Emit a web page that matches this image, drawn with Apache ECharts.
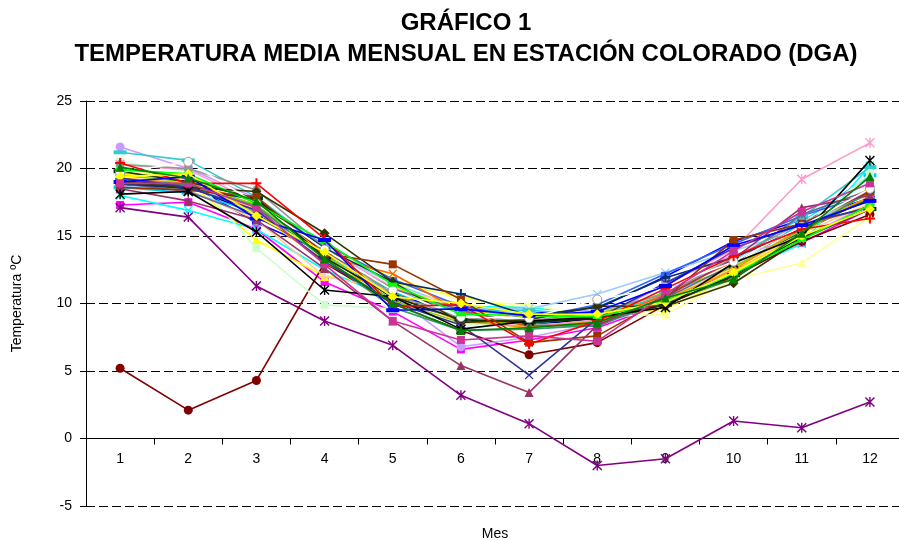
<!DOCTYPE html>
<html>
<head>
<meta charset="utf-8">
<script src="https://cdn.jsdelivr.net/npm/echarts@6/dist/echarts.min.js"></script>
<style>html,body{margin:0;padding:0;background:#fff;}#c{width:899px;height:540px;}</style>
</head>
<body>
<div id="c"></div>
<script>
// ---- data ----
const months = ['1','2','3','4','5','6','7','8','9','10','11','12'];
const yTicks = [-5, 0, 5, 10, 15, 20, 25];

const s01 = [19.1, 18.7, 16.6, 13.6, 10.2, 8.9, 8.4, 8.9, 10.5, 12.7, 15.3, 17.9];
const s02 = [17.3, 17.5, 15.5, 11.6, 9.4, 6.6, 7.3, 8.2, 10.0, 12.5, 14.5, 17.0];
const s03 = [19.6, 19.0, 14.7, 12.0, 11.5, 10.5, 9.5, 9.0, 9.6, 12.0, 15.0, 17.0];
const s04 = [18.0, 16.9, 15.5, 12.5, 10.3, 9.8, 9.7, 9.2, 10.2, 12.2, 14.4, 20.2];
const s05 = [17.1, 16.4, 11.3, 8.7, 6.9, 3.2, 1.1, -2.0, -1.5, 1.3, 0.8, 2.7];
const s06 = [5.2, 2.1, 4.3, 13.0, 10.0, 8.0, 6.2, 7.1, 9.9, 12.0, 14.6, 16.6];
const s07 = [19.2, 18.8, 17.2, 14.0, 10.8, 9.0, 8.5, 9.0, 10.5, 12.8, 15.5, 18.3];
const s08 = [18.7, 18.9, 16.0, 13.8, 10.4, 9.8, 9.3, 9.6, 12.0, 14.6, 16.2, 17.8];
const s09 = [18.6, 18.2, 16.8, 13.5, 10.8, 9.6, 9.3, 9.0, 10.8, 12.6, 16.0, 19.5];
const s10 = [20.0, 19.5, 17.6, 14.5, 11.3, 9.3, 9.4, 9.6, 11.0, 13.4, 16.0, 19.0];
const s11 = [20.5, 19.8, 14.1, 9.9, 9.6, 8.5, 8.4, 8.6, 10.3, 12.8, 15.6, 19.6];
const s12 = [19.8, 19.6, 17.0, 14.0, 12.0, 10.2, 9.9, 9.0, 9.2, 11.8, 13.0, 16.4];
const s13 = [18.7, 18.5, 17.3, 13.9, 11.5, 9.6, 9.6, 10.7, 12.3, 13.9, 15.5, 18.4];
const s14 = [20.3, 19.9, 17.5, 14.0, 11.2, 8.7, 8.3, 8.8, 11.4, 14.0, 19.2, 21.9];
const s15 = [21.6, 20.0, 17.8, 13.8, 10.6, 6.8, 7.5, 8.5, 11.6, 13.6, 14.8, 17.4];
const s16 = [19.0, 18.4, 16.2, 12.0, 11.0, 10.0, 8.6, 9.3, 10.6, 12.6, 15.2, 17.4];
const s17 = [18.9, 18.6, 16.9, 14.4, 11.8, 9.8, 8.9, 9.9, 12.2, 14.4, 16.5, 18.1];
const s18 = [21.2, 20.6, 17.9, 14.1, 10.9, 9.4, 9.5, 9.1, 10.6, 13.2, 16.4, 20.1];
const s19 = [19.5, 19.0, 17.3, 13.6, 10.2, 8.6, 8.6, 9.2, 10.8, 12.7, 15.4, 17.8];
const s20 = [19.7, 19.2, 16.6, 13.2, 11.2, 9.5, 9.0, 9.1, 10.4, 12.4, 15.1, 18.6];
const s21 = [19.3, 18.9, 16.9, 13.0, 10.6, 8.7, 8.2, 8.7, 10.3, 12.5, 15.6, 17.9];
const s22 = [19.0, 18.7, 17.7, 13.5, 12.2, 9.4, 8.3, 8.5, 10.7, 13.1, 15.7, 17.2];
const s23 = [18.9, 18.3, 16.4, 13.8, 11.1, 9.5, 8.4, 8.3, 10.4, 12.9, 16.6, 18.4];
const s24 = [20.3, 20.0, 18.4, 14.2, 10.7, 8.9, 8.7, 9.4, 10.7, 13.4, 16.0, 18.1];
const s25 = [18.9, 18.5, 17.7, 14.1, 11.6, 10.7, 9.1, 9.7, 11.9, 13.4, 15.6, 17.7];
const s26 = [19.2, 18.8, 17.2, 13.3, 9.7, 8.0, 8.1, 8.4, 10.1, 11.8, 15.3, 18.3];
const s27 = [19.8, 19.0, 17.8, 13.4, 10.5, 8.8, 8.6, 8.9, 9.9, 12.1, 14.9, 17.0];
const s28 = [19.0, 18.6, 18.3, 15.2, 11.6, 8.6, 8.8, 9.8, 9.8, 11.5, 14.8, 17.0];
const s29 = [18.6, 18.4, 17.9, 13.7, 12.9, 10.3, 7.1, 7.6, 10.4, 14.7, 15.9, 18.3];
const s30 = [18.5, 17.6, 16.2, 12.6, 8.7, 5.4, 3.4, 8.4, 10.5, 13.3, 17.1, 18.0];
const s31 = [19.3, 18.6, 16.9, 13.1, 10.1, 8.4, 4.7, 8.9, 11.5, 14.1, 15.9, 17.1];
const s32 = [18.1, 18.3, 15.3, 11.0, 10.5, 8.1, 8.7, 9.0, 9.7, 13.0, 15.0, 20.6];
const s33 = [19.7, 20.5, 17.4, 14.0, 11.0, 9.0, 8.9, 10.3, 11.2, 13.1, 15.7, 18.5];
const s34 = [20.4, 18.9, 18.9, 14.8, 9.8, 9.9, 7.0, 8.7, 11.1, 13.5, 15.5, 16.3];
const s35 = [19.9, 19.6, 17.4, 14.6, 11.4, 9.2, 9.1, 9.0, 10.2, 12.2, 14.7, 17.3];
const s36 = [19.0, 19.4, 16.3, 14.7, 9.5, 9.6, 9.1, 9.4, 11.3, 14.3, 15.8, 17.6];
const s37 = [19.4, 19.6, 16.5, 13.8, 10.5, 10.0, 9.2, 9.2, 10.1, 12.3, 15.0, 17.0];
const s38 = [18.9, 18.9, 17.1, 12.9, 8.7, 7.3, 7.6, 7.2, 10.7, 13.9, 16.8, 18.9];
const s39 = [20.1, 19.3, 17.6, 13.3, 10.0, 8.0, 8.2, 8.6, 10.4, 11.8, 15.2, 19.4];

const seriesValues = [s01,s02,s03,s04,s05,s06,s07,s08,s09,s10,s11,s12,s13,s14,s15,s16,s17,s18,s19,s20,
  s21,s22,s23,s24,s25,s26,s27,s28,s29,s30,s31,s32,s33,s34,s35,s36,s37,s38,s39];

// ---- styles ----
const lineColors = ['#000080','#FF00FF','#FFFF00','#00FFFF','#800080','#800000','#008080','#0000FF',
  '#00CCFF','#CCFFFF','#CCFFCC','#FFFF99','#99CCFF','#FF99CC','#CC99FF','#FFCC99','#3366FF','#33CCCC',
  '#99CC00','#FFCC00','#FF9900','#FF6600','#666699','#969696','#003366','#339966','#003300','#333300',
  '#993300','#993366','#333399','#000000','#FFFFFF','#FF0000','#00FF00','#0000FF','#FFFF00','#CC3399','#008000'];

const X_PATH = 'path://M1,0L5,4L9,0L10,1L6,5L10,9L9,10L5,6L1,10L0,9L4,5L0,1Z';
const STAR_PATH = 'path://M1,0L4.3,3.3V0H5.7V3.3L9,0L10,1L6,5L10,9L9,10L5.7,6.7V10H4.3V6.7L1,10L0,9L4,5L0,1Z';
const PLUS_PATH = 'path://M4,0H6V4H10V6H6V10H4V6H0V4H4Z';
const markerCycle = [
  {symbol:'diamond', size:10},
  {symbol:'rect', size:8},
  {symbol:'triangle', size:9},
  {symbol:X_PATH, size:9},
  {symbol:STAR_PATH, size:10},
  {symbol:'circle', size:9},
  {symbol:PLUS_PATH, size:10},
  {symbol:'rect', size:[9,4]},
  {symbol:'rect', size:[13,4]}
];

const series = seriesValues.map(function (vals, i) {
  const m = markerCycle[i % markerCycle.length];
  const c = lineColors[i];
  const isWhite = c === '#FFFFFF';
  return {
    type: 'line',
    data: vals,
    symbol: m.symbol,
    symbolSize: m.size,
    showSymbol: true,
    animation: false,
    lineStyle: {color: c, width: 1.6},
    itemStyle: {color: c, borderColor: isWhite ? '#999999' : c, borderWidth: isWhite ? 1 : 0},
    emphasis: {disabled: true},
    z: 2 + i * 0.01
  };
});

const chart = echarts.init(document.getElementById('c'), null, {renderer: 'canvas'});
chart.setOption({
  backgroundColor: '#ffffff',
  animation: false,
  title: {
    text: 'GRÁFICO 1\nTEMPERATURA MEDIA MENSUAL EN ESTACIÓN COLORADO (DGA)',
    left: 461,
    top: 3,
    textAlign: 'center',
    textStyle: {fontFamily: 'Liberation Sans, Arial, sans-serif', fontSize: 24, fontWeight: 'bold', color: '#000', lineHeight: 31}
  },
  grid: {left: 86, top: 101, width: 818, height: 405, containLabel: false, outerBoundsMode: 'none'},
  xAxis: {
    type: 'category',
    data: months,
    boundaryGap: true,
    position: 'bottom',
    offset: -67.5,
    name: 'Mes',
    nameLocation: 'middle',
    nameGap: 89,
    nameTextStyle: {fontFamily: 'Liberation Sans, Arial, sans-serif', fontSize: 14, color: '#000'},
    axisLine: {onZero: false, lineStyle: {color: '#000', width: 1}},
    axisTick: {show: true, inside: false, length: 6, alignWithLabel: false, lineStyle: {color: '#000'}},
    axisLabel: {margin: 14, fontFamily: 'Liberation Sans, Arial, sans-serif', fontSize: 14, color: '#000'},
    splitLine: {show: false}
  },
  yAxis: {
    type: 'value',
    min: yTicks[0],
    max: yTicks[yTicks.length - 1],
    interval: 5,
    name: 'Temperatura ºC',
    nameLocation: 'middle',
    nameGap: 62,
    nameRotate: 90,
    nameTextStyle: {fontFamily: 'Liberation Sans, Arial, sans-serif', fontSize: 14, color: '#000'},
    axisLine: {show: true, lineStyle: {color: '#000', width: 1}},
    axisTick: {show: true, inside: false, length: 6, lineStyle: {color: '#000'}},
    axisLabel: {margin: 14, fontFamily: 'Liberation Sans, Arial, sans-serif', fontSize: 14, color: '#000'},
    splitLine: {show: true, lineStyle: {color: '#000', width: 1, type: [9, 4]}}
  },
  tooltip: {show: false},
  series: series
});
</script>
</body>
</html>
